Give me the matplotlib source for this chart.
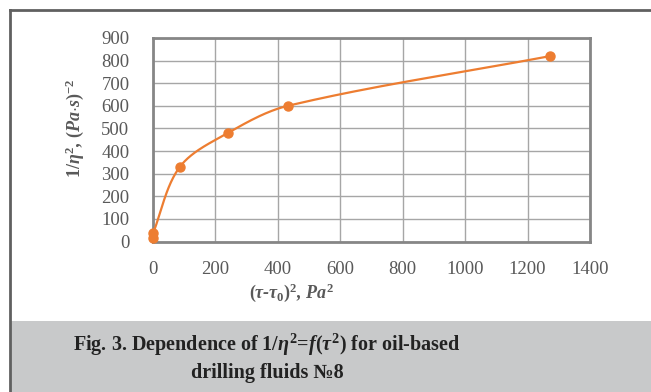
import matplotlib
matplotlib.use('Agg')
import matplotlib.pyplot as plt
from matplotlib.patches import Rectangle
import numpy as np

plt.rcParams['font.family'] = ['Liberation Serif', 'DejaVu Serif']
plt.rcParams['mathtext.fontset'] = 'custom'
plt.rcParams['mathtext.rm'] = 'Liberation Serif:bold'
plt.rcParams['mathtext.it'] = 'Liberation Serif:italic:bold'
plt.rcParams['mathtext.bf'] = 'Liberation Serif:bold'

# data
tau_sq = [0, 1, 86, 240, 432, 1272]
inv_eta_sq = [15, 38, 330, 480, 600, 820]
xticks = [0, 200, 400, 600, 800, 1000, 1200, 1400]
yticks = [0, 100, 200, 300, 400, 500, 600, 700, 800, 900]

orange = '#ED7D31'
W, H = 651, 392
ax_l, ax_t, ax_r, ax_b = 153, 38, 590, 241.5


def smooth(xs, ys, n=40):
    # excel-like smoothed line: cubic bezier, tangents scaled by segment lengths (screen space)
    sx = (ax_r - ax_l) / 1400
    sy = (ax_b - ax_t) / 900
    p = np.column_stack([np.array(xs) * sx, np.array(ys) * sy]).astype(float)
    p = np.vstack([p[0], p, p[-1]])
    out = []
    t = np.linspace(0, 1, n)[:, None]
    for i in range(1, len(p) - 2):
        p0, p1, p2, p3 = p[i - 1], p[i], p[i + 1], p[i + 2]
        d01 = np.linalg.norm(p1 - p0)
        d12 = np.linalg.norm(p2 - p1)
        d23 = np.linalg.norm(p3 - p2)
        f1 = d12 / (3 * (d01 + d12)) if d01 + d12 > 0 else 0
        f2 = d12 / (3 * (d12 + d23)) if d12 + d23 > 0 else 0
        c1 = p1 + (p2 - p0) * f1
        c2 = p2 - (p3 - p1) * f2
        seg = ((1 - t) ** 3) * p1 + 3 * ((1 - t) ** 2) * t * c1 + 3 * (1 - t) * t ** 2 * c2 + t ** 3 * p2
        out.append(seg)
    out = np.vstack(out)
    return out[:, 0] / sx, out[:, 1] / sy


fig = plt.figure(figsize=(W / 100, H / 100), dpi=100)

# outer frame and caption band
fig.patches.append(Rectangle((10 / W, 0), 1, 71 / H, transform=fig.transFigure,
                             facecolor='#c8c9ca', edgecolor='none', zorder=0))
fig.add_artist(plt.Line2D([9.5 / W, 9.5 / W], [0, 1 - 9.5 / H], color='#606060', lw=2,
                          transform=fig.transFigure))
fig.add_artist(plt.Line2D([9.5 / W, 1], [1 - 9.5 / H, 1 - 9.5 / H], color='#606060', lw=2,
                          transform=fig.transFigure))

ax = fig.add_axes([ax_l / W, 1 - ax_b / H, (ax_r - ax_l) / W, (ax_b - ax_t) / H])
ax.set_xlim(0, 1400)
ax.set_ylim(0, 900)
ax.set_xticks(xticks)
ax.set_yticks(yticks)
ax.grid(True, color='#a6a6a6', lw=1)
ax.set_axisbelow(True)
for s in ax.spines.values():
    s.set_color('#868686')
    s.set_linewidth(2)
ax.tick_params(length=0, labelsize=13.5, colors='#595959')
ax.tick_params(axis='y', pad=17)
ax.tick_params(axis='x', pad=14)

sx, sy = smooth(tau_sq, inv_eta_sq)
ax.plot(sx, sy, color=orange, lw=1.6, clip_on=False, zorder=3)
ax.plot(tau_sq, inv_eta_sq, 'o', color=orange, ms=6.5, clip_on=False, zorder=4)

fig.text(292 / W, 1 - 293 / H, r'$(\tau$-$\tau_0)^2$, $Pa^2$', ha='center', va='center',
         fontsize=13, color='#595959', fontweight='bold', style='italic')
fig.text(75 / W, 1 - 128 / H, r'$1/\eta^2$, $(Pa{\cdot}s)^{-2}$', ha='center', va='center',
         rotation=90, fontsize=13, color='#595959', fontweight='bold', style='italic')

fig.text(267 / W, 1 - 345 / H, r'Fig. 3. Dependence of 1/$\eta^2$=$f$($\tau^2$) for oil-based',
         ha='center', va='center', fontsize=14.5, fontweight='bold', color='#222222')
fig.text(267 / W, 1 - 373 / H, 'drilling fluids №8',
         ha='center', va='center', fontsize=14.5, fontweight='bold', color='#222222')

fig.savefig('out.png', dpi=100)
